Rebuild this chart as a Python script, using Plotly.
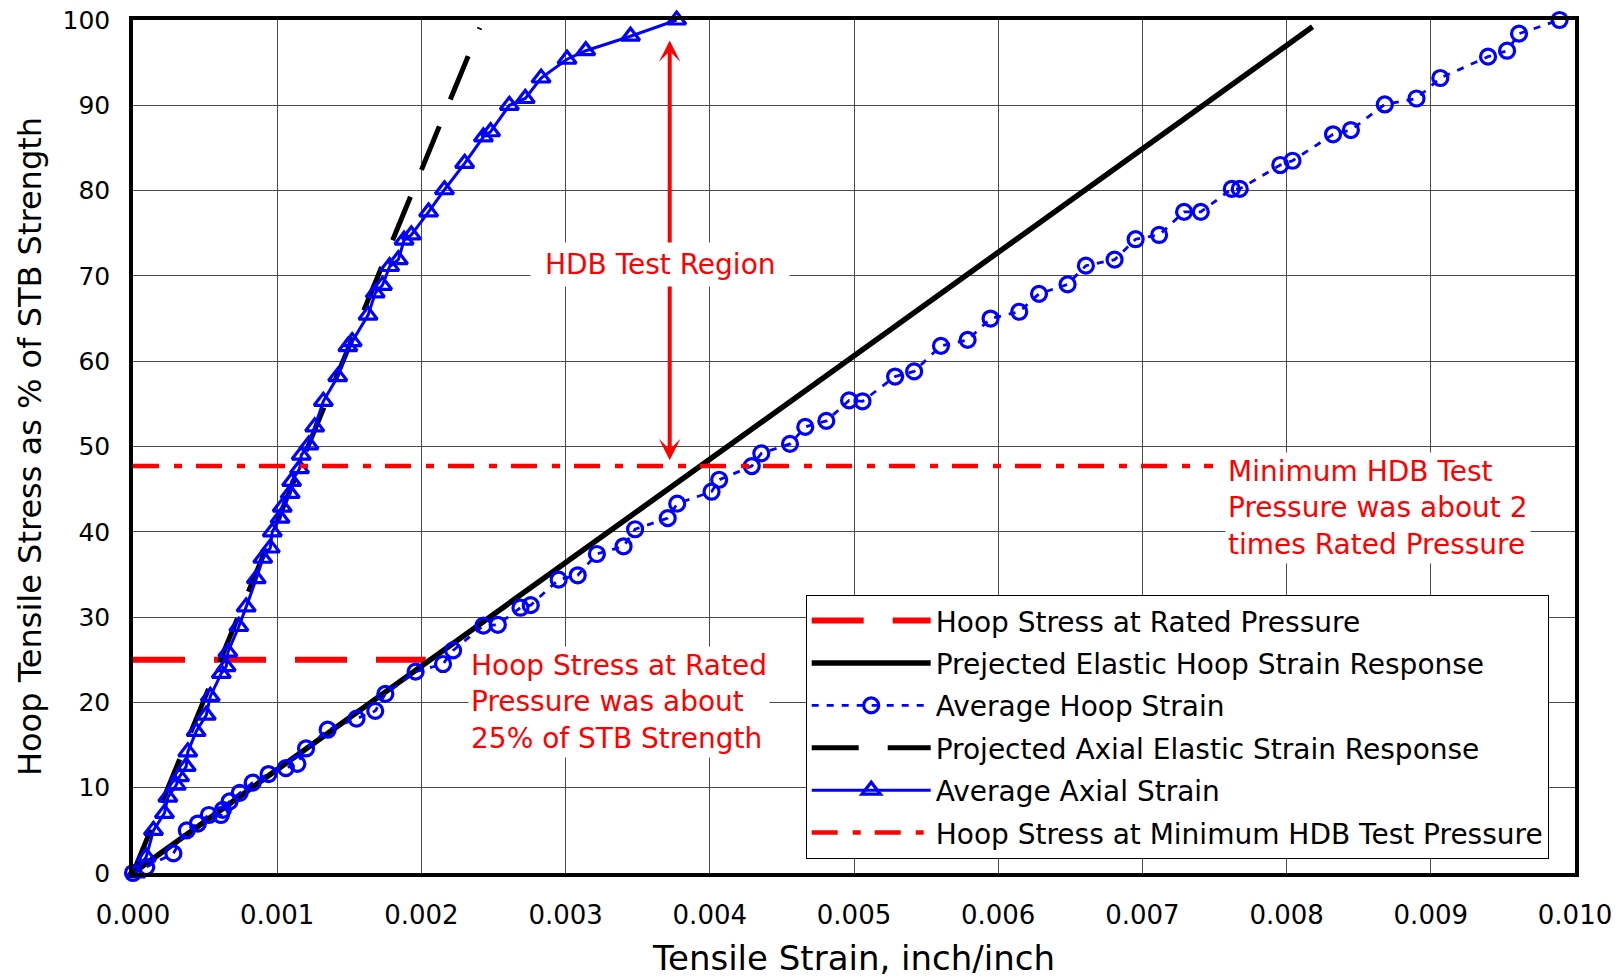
import plotly.graph_objects as go

# ---------------- data ----------------
axial_strain = [0.00002, 0.000092, 0.000142, 0.000218, 0.000242, 0.0003, 0.000323, 0.000369,
                0.00038, 0.000438, 0.000508, 0.000536, 0.000612, 0.000646, 0.000658, 0.000734,
                0.000785, 0.000855, 0.0009, 0.000952, 0.000966, 0.00102, 0.001035, 0.00109,
                0.0011, 0.001155, 0.001167, 0.00122, 0.00126, 0.00132, 0.00142, 0.00149,
                0.00152, 0.00163, 0.00168, 0.00173, 0.00178, 0.00184, 0.00188, 0.00193,
                0.00205, 0.00216, 0.0023, 0.00243, 0.00248, 0.00261, 0.00272, 0.00283,
                0.00301, 0.00314, 0.00345, 0.00377]
axial_stress = [0.0, 1.9, 5.0, 7.0, 8.9, 10.3, 11.3, 12.5,
                14.2, 16.6, 18.5, 20.7, 23.4, 24.2, 25.9, 28.9,
                31.2, 34.5, 36.9, 38.1, 40.0, 41.6, 42.9, 44.5,
                45.9, 47.4, 49.0, 50.2, 52.3, 55.3, 58.2, 61.7,
                62.3, 65.4, 68.0, 68.9, 71.1, 71.9, 74.2, 74.8,
                77.5, 80.1, 83.2, 86.3, 86.9, 90.0, 90.8, 93.2,
                95.4, 96.4, 98.1, 100.0]

hoop_strain = [0.0, 0.000092, 0.00028, 0.000373, 0.00045, 0.000526, 0.00061, 0.000623,
               0.00067, 0.00074, 0.00083, 0.00094, 0.00106, 0.00114, 0.0012, 0.00135,
               0.00155, 0.00168, 0.00175, 0.00196, 0.00215, 0.00222, 0.00243, 0.00253,
               0.002687, 0.002758, 0.002952, 0.003084, 0.003217, 0.003402, 0.003482, 0.003708,
               0.003774, 0.004012, 0.004065, 0.004291, 0.004357, 0.004556, 0.004662, 0.004808,
               0.004966, 0.005059, 0.005285, 0.005417, 0.005603, 0.005788, 0.005947, 0.006146,
               0.006283, 0.006481, 0.006608, 0.006807, 0.006953, 0.007116, 0.007289, 0.007405,
               0.00762, 0.007675, 0.007956, 0.008041, 0.008322, 0.008446, 0.008681, 0.008901,
               0.009066, 0.009397, 0.009529, 0.009612, 0.009893]
hoop_stress = [0.0, 0.7, 2.3, 5.0, 5.8, 6.8, 6.8, 7.4,
               8.4, 9.4, 10.6, 11.6, 12.3, 12.8, 14.6, 16.8,
               18.1, 19.0, 21.0, 23.6, 24.5, 26.1, 29.0, 29.1,
               31.1, 31.4, 34.4, 34.9, 37.4, 38.3, 40.3, 41.6,
               43.3, 44.7, 46.1, 47.7, 49.2, 50.3, 52.3, 53.0,
               55.4, 55.3, 58.2, 58.8, 61.8, 62.5, 65.0, 65.8,
               67.9, 69.0, 71.2, 71.9, 74.3, 74.8, 77.5, 77.5,
               80.2, 80.2, 83.0, 83.5, 86.6, 87.1, 90.1, 90.8,
               93.2, 95.7, 96.4, 98.4, 100.0]

hoop_proj_strain = [0.0, 0.00818]
hoop_proj_stress = [0.0, 99.2]
axial_proj_strain = [0.0, 0.002405]
axial_proj_stress = [0.0, 99.1]
rated_strain = [0.0, 0.00203]
rated_stress = [25.0, 25.0]
hdb_strain = [0.0, 0.00749]
hdb_stress = [47.7, 47.7]

x_ticks = [0.000, 0.001, 0.002, 0.003, 0.004, 0.005, 0.006, 0.007, 0.008, 0.009, 0.010]
y_ticks = [0, 10, 20, 30, 40, 50, 60, 70, 80, 90, 100]

arrow_x = 0.003722
arrow_y_top = 97.6
arrow_y_bottom = 48.2

FONT = "DejaVu Sans"
RED = "#FF0000"
BLUE = "#0000FF"

fig = go.Figure()

fig.add_trace(go.Scatter(
    x=rated_strain, y=rated_stress, mode="lines", name="Hoop Stress at Rated Pressure",
    legendgroup="g1", line=dict(color=RED, width=6, dash="52px,29px")))
fig.add_trace(go.Scatter(
    x=hoop_proj_strain, y=hoop_proj_stress, mode="lines",
    name="Prejected Elastic Hoop Strain Response", legendgroup="g2",
    line=dict(color="black", width=5.5)))
fig.add_trace(go.Scatter(
    x=hoop_strain, y=hoop_stress, mode="lines+markers", name="Average Hoop Strain",
    legendgroup="g3", cliponaxis=False,
    line=dict(color=BLUE, width=2.8, dash="7px,8px"),
    marker=dict(symbol="circle-open", size=15, color=BLUE, line=dict(width=3.2, color=BLUE))))
fig.add_trace(go.Scatter(
    x=axial_proj_strain, y=axial_proj_stress, mode="lines",
    name="Projected Axial Elastic Strain Response", legendgroup="g4",
    line=dict(color="black", width=5, dash="47px,29px")))
fig.add_trace(go.Scatter(
    x=axial_strain, y=axial_stress, mode="lines+markers", name="Average Axial Strain",
    legendgroup="g5", cliponaxis=False,
    line=dict(color=BLUE, width=3),
    marker=dict(symbol="triangle-up-open", size=16, color=BLUE, line=dict(width=3.2, color=BLUE))))
fig.add_trace(go.Scatter(
    x=hdb_strain, y=hdb_stress, mode="lines",
    name="Hoop Stress at Minimum HDB Test Pressure", legendgroup="g6",
    line=dict(color=RED, width=4.5, dash="26px,15px,8px,14px")))

annotations = [
    dict(x=arrow_x, y=arrow_y_top, ax=arrow_x, ay=arrow_y_bottom, xref="x", yref="y",
         axref="x", ayref="y", text="", showarrow=True, arrowside="end+start",
         arrowhead=3, arrowsize=0.9, arrowwidth=4, arrowcolor=RED),
    dict(x=0.003656, y=71.3, xref="x", yref="y", text="&nbsp;HDB Test Region&nbsp;",
         showarrow=False, font=dict(family=FONT, size=28, color=RED), bgcolor="white",
         borderpad=5, xanchor="center", yanchor="middle"),
    dict(x=0.00232, y=20.1, xref="x", yref="y",
         text="Hoop Stress at Rated<br>Pressure was about<br>25% of STB Strength",
         showarrow=False, align="left", font=dict(family=FONT, size=28, color=RED),
         bgcolor="white", borderpad=2, xanchor="left", yanchor="middle"),
    dict(x=0.007575, y=42.8, xref="x", yref="y",
         text="Minimum HDB Test<br>Pressure was about 2<br>times Rated Pressure",
         showarrow=False, align="left", font=dict(family=FONT, size=28, color=RED),
         bgcolor="white", borderpad=2, xanchor="left", yanchor="middle"),
]

fig.update_layout(
    width=1623, height=978,
    margin=dict(l=133, r=48, t=20, b=105, autoexpand=False),
    paper_bgcolor="white", plot_bgcolor="white",
    font=dict(family=FONT, color="black"),
    showlegend=True,
    legend=dict(x=0.4665, y=0.326, xanchor="left", yanchor="top", bgcolor="white",
                bordercolor="black", borderwidth=1, itemwidth=119, tracegroupgap=3,
                font=dict(family=FONT, size=28, color="black")),
    annotations=annotations,
)

fig.update_xaxes(
    range=[0, 0.010], tickvals=x_ticks, ticktext=[f"{v:.3f}" for v in x_ticks],
    showgrid=True, gridcolor="#4a4a4a", gridwidth=1, zeroline=False,
    showline=True, linecolor="black", linewidth=3.5, mirror=True,
    ticks="", ticklabelstandoff=16, ticklabeloverflow="allow",
    tickfont=dict(family=FONT, size=26, color="black"),
    title=dict(text="Tensile Strain, inch/inch", font=dict(family=FONT, size=34, color="black"),
               standoff=20),
    automargin=False)
fig.update_yaxes(
    range=[0, 100], tickvals=y_ticks, ticktext=[str(v) for v in y_ticks],
    showgrid=True, gridcolor="#4a4a4a", gridwidth=1, zeroline=False,
    showline=True, linecolor="black", linewidth=3.5, mirror=True,
    ticks="", ticklabelstandoff=14, ticklabeloverflow="allow",
    tickfont=dict(family=FONT, size=25, color="black"),
    title=dict(text="Hoop Tensile Stress as % of STB Strength",
               font=dict(family=FONT, size=32, color="black"), standoff=12),
    automargin=False)

# remove the page's default 8px body margin so the figure fills the window exactly
fig.write_html("out.html", config={"displayModeBar": False},
               post_script="document.body.style.margin='0';")
